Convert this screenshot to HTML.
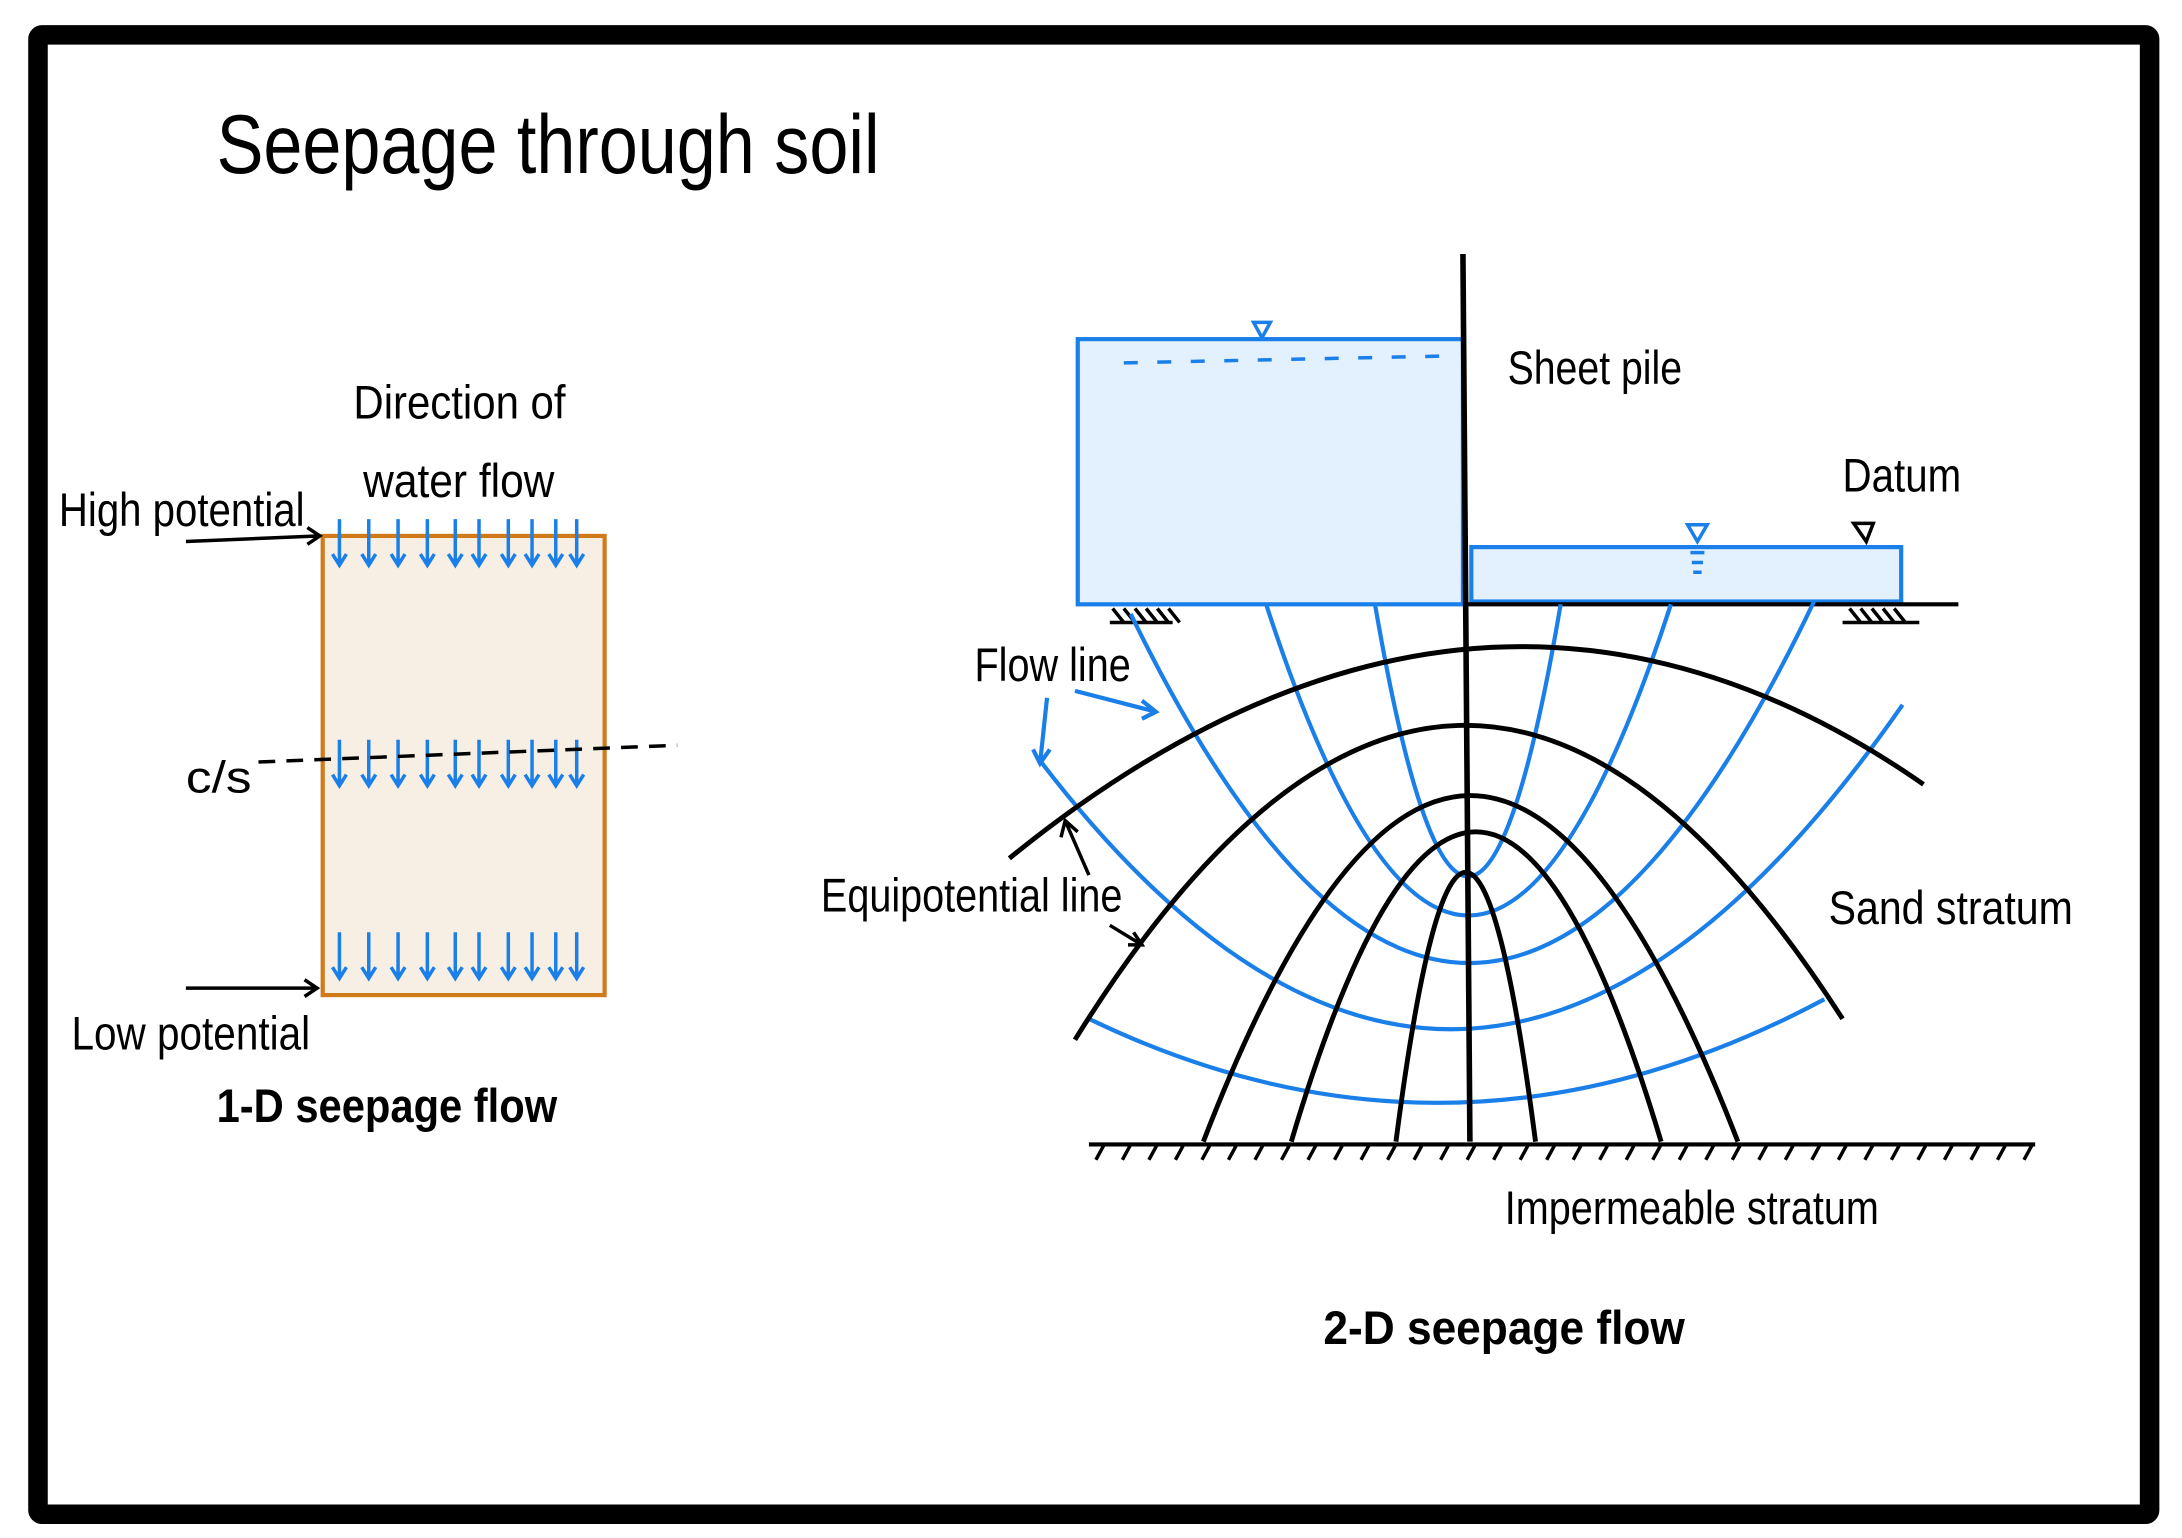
<!DOCTYPE html>
<html><head><meta charset="utf-8"><style>
html,body{margin:0;padding:0;background:#fff;}
svg{display:block;}
text{font-family:"Liberation Sans Narrow","Liberation Sans",sans-serif;fill:#000;}
</style></head><body>
<svg width="2182" height="1538" viewBox="0 0 1563 1102" xmlns="http://www.w3.org/2000/svg">
<rect x="0" y="0" width="1563" height="1102" fill="#fff"/>
<rect x="27" y="25" width="1513" height="1060" fill="none" stroke="#000" stroke-width="14" rx="3"/>
<text x="155" y="124" font-size="60" textLength="475" lengthAdjust="spacingAndGlyphs">Seepage through soil</text>

<!-- 1D -->
<rect x="231" y="384" width="202" height="329" fill="#f7efe3" stroke="#d07a1a" stroke-width="3"/>
<g stroke="#1a7fe8" stroke-width="2.5" fill="none">
<g transform="translate(0,372)">
<path d="M243,0v33m-5,-8l5,8l5,-8 M264,0v33m-5,-8l5,8l5,-8 M285,0v33m-5,-8l5,8l5,-8 M306,0v33m-5,-8l5,8l5,-8 M326,0v33m-5,-8l5,8l5,-8 M343,0v33m-5,-8l5,8l5,-8 M364,0v33m-5,-8l5,8l5,-8 M381,0v33m-5,-8l5,8l5,-8 M398,0v33m-5,-8l5,8l5,-8 M413,0v33m-5,-8l5,8l5,-8"/></g>
<g transform="translate(0,530)">
<path d="M243,0v33m-5,-8l5,8l5,-8 M264,0v33m-5,-8l5,8l5,-8 M285,0v33m-5,-8l5,8l5,-8 M306,0v33m-5,-8l5,8l5,-8 M326,0v33m-5,-8l5,8l5,-8 M343,0v33m-5,-8l5,8l5,-8 M364,0v33m-5,-8l5,8l5,-8 M381,0v33m-5,-8l5,8l5,-8 M398,0v33m-5,-8l5,8l5,-8 M413,0v33m-5,-8l5,8l5,-8"/></g>
<g transform="translate(0,668)">
<path d="M243,0v33m-5,-8l5,8l5,-8 M264,0v33m-5,-8l5,8l5,-8 M285,0v33m-5,-8l5,8l5,-8 M306,0v33m-5,-8l5,8l5,-8 M326,0v33m-5,-8l5,8l5,-8 M343,0v33m-5,-8l5,8l5,-8 M364,0v33m-5,-8l5,8l5,-8 M381,0v33m-5,-8l5,8l5,-8 M398,0v33m-5,-8l5,8l5,-8 M413,0v33m-5,-8l5,8l5,-8"/></g>
</g>
<path d="M185,546 L485,534" stroke="#000" stroke-width="2.5" stroke-dasharray="12,8" fill="none"/>
<g stroke="#000" stroke-width="2.5" fill="none">
<path d="M133,388 L229,384 M220,378 L229,384 L220,390"/>
<path d="M133,708 L227,708 M218,702 L227,708 L218,714"/>
</g>
<text x="253" y="300" font-size="34" textLength="152" lengthAdjust="spacingAndGlyphs">Direction of</text>
<text x="260" y="356" font-size="34" textLength="137" lengthAdjust="spacingAndGlyphs">water flow</text>
<text x="42" y="377" font-size="34" textLength="176" lengthAdjust="spacingAndGlyphs">High potential</text>
<text x="133" y="568" font-size="32" textLength="47" lengthAdjust="spacingAndGlyphs">c/s</text>
<text x="51" y="752" font-size="34" textLength="171" lengthAdjust="spacingAndGlyphs">Low potential</text>
<text x="155" y="804" font-size="34" font-weight="bold" textLength="244" lengthAdjust="spacingAndGlyphs">1-D seepage flow</text>

<!-- 2D -->
<rect x="772" y="243" width="276" height="190" fill="#e3f0fd" stroke="#1a7fe8" stroke-width="3"/>
<path d="M805,260 L1040,255" stroke="#1a7fe8" stroke-width="2.5" stroke-dasharray="10,14" fill="none"/>
<path d="M898,231 L910,231 L904,242 Z" fill="none" stroke="#1a7fe8" stroke-width="2.5"/>
<rect x="1054" y="392" width="308" height="39" fill="#e3f0fd" stroke="#1a7fe8" stroke-width="3"/>
<path d="M1209,376 L1223,376 L1216,388 Z M1211,396h10 M1212,403h8 M1213,410h6" fill="none" stroke="#1a7fe8" stroke-width="2.5"/>
<path d="M1328,375 L1342,375 L1337,388 Z" fill="none" stroke="#000" stroke-width="2.5"/>
<path d="M1048,433 L1403,433" stroke="#000" stroke-width="3"/>
<g stroke="#000" stroke-width="2.5" fill="none">
<path d="M797,436 l8,10 M805,436 l8,10 M813,436 l8,10 M821,436 l8,10 M829,436 l8,10 M837,436 l8,10 M795,446 h45"/>
<path d="M1325,436 l8,10 M1333,436 l8,10 M1341,436 l8,10 M1349,436 l8,10 M1357,436 l8,10 M1320,446 h55"/>
</g>
<g stroke="#1a7fe8" stroke-width="3" fill="none">
<path d="M985,433 Q1052,823 1118,433"/>
<path d="M907,433 Q1052,879 1197,433"/>
<path d="M810,440 Q1055,945 1300,430"/>
<path d="M745,545 Q1054,949 1363,505"/>
<path d="M780,730 Q1043,857 1307,716"/>
</g>
<g stroke="#000" stroke-width="3.5" fill="none">
<path d="M723,615 Q1060,341 1378,562"/>
<path d="M770,745 Q1045,302 1320,730"/>
<path d="M862,818 Q1053,322 1245,818"/>
<path d="M925,818 Q1057,374 1190,818"/>
<path d="M1000,818 Q1050,432 1100,818"/>
</g>
<path d="M1048,182 L1053,818" stroke="#000" stroke-width="4"/>
<path d="M780,820 L1458,820" stroke="#000" stroke-width="3"/>
<g stroke="#000" stroke-width="2.5">
<path d="M785,831l6,-11 M804,831l6,-11 M823,831l6,-11 M842,831l6,-11 M861,831l6,-11 M880,831l6,-11 M899,831l6,-11 M918,831l6,-11 M937,831l6,-11 M956,831l6,-11 M975,831l6,-11 M994,831l6,-11 M1013,831l6,-11 M1032,831l6,-11 M1051,831l6,-11 M1070,831l6,-11 M1089,831l6,-11 M1108,831l6,-11 M1127,831l6,-11 M1146,831l6,-11 M1165,831l6,-11 M1184,831l6,-11 M1203,831l6,-11 M1222,831l6,-11 M1241,831l6,-11 M1260,831l6,-11 M1279,831l6,-11 M1298,831l6,-11 M1317,831l6,-11 M1336,831l6,-11 M1355,831l6,-11 M1374,831l6,-11 M1393,831l6,-11 M1412,831l6,-11 M1431,831l6,-11 M1450,831l6,-11"/>
</g>
<g stroke="#1a7fe8" stroke-width="3" fill="none">
<path d="M770,495 L828,510 M818,502 L828,510 L818,515"/>
<path d="M750,500 L745,547 M740,537 L745,547 L752,537"/>
</g>
<g stroke="#000" stroke-width="2.5" fill="none">
<path d="M780,627 L763,588 M760,600 L763,588 L772,596"/>
<path d="M795,663 L818,677 M808,677 L818,677 L812,668"/>
</g>
<text x="1080" y="275" font-size="34" textLength="125" lengthAdjust="spacingAndGlyphs">Sheet pile</text>
<text x="1320" y="352" font-size="34" textLength="85" lengthAdjust="spacingAndGlyphs">Datum</text>
<text x="698" y="488" font-size="34" textLength="112" lengthAdjust="spacingAndGlyphs">Flow line</text>
<text x="588" y="653" font-size="34" textLength="216" lengthAdjust="spacingAndGlyphs">Equipotential line</text>
<text x="1310" y="662" font-size="34" textLength="175" lengthAdjust="spacingAndGlyphs">Sand stratum</text>
<text x="1078" y="877" font-size="34" textLength="268" lengthAdjust="spacingAndGlyphs">Impermeable stratum</text>
<text x="948" y="963" font-size="34" font-weight="bold" textLength="259" lengthAdjust="spacingAndGlyphs">2-D seepage flow</text>
</svg>
</body></html>
